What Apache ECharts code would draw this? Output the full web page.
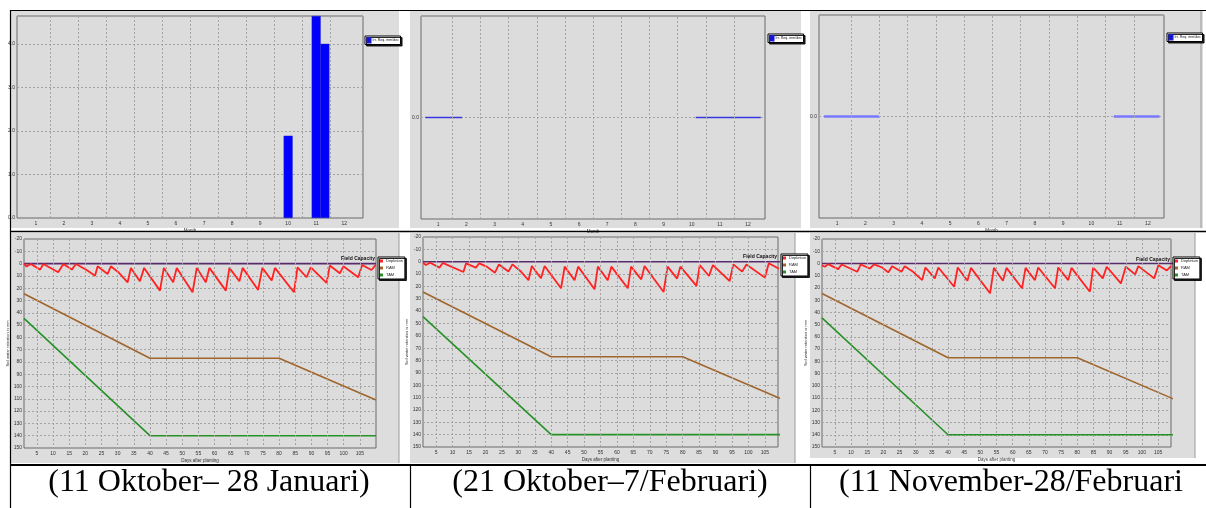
<!DOCTYPE html>
<html><head><meta charset="utf-8">
<script src="https://cdn.jsdelivr.net/npm/echarts@6/dist/echarts.min.js"></script>
<style>html,body{margin:0;padding:0;background:#fff}#c{width:1206px;height:508px}</style>
</head><body><div id="c"></div><script>
// ---------------- DATA ----------------
const monthLabels = [1,2,3,4,5,6,7,8,9,10,11,12];
const monthGridLines = [1.5,2.5,3.5,4.5,5.5,6.5,7.5,8.5,9.5,10.5,11.5];
const irrYTicks1 = [0,1,2,3,4];
const irrYTicksZero = [0];
// chart 1 (11 Oct - 28 Jan): irrigation requirement bars (month position, mm/dec)
const irrBarPos1 = [10.0, 11.0, 11.31];
const irrBarVal1 = [1.89, 4.64, 4.0];
// chart 2 & 3: zero-value irrigation requirement segments (start month, end month)
const irrZeroSeg2 = [[0.54, 1.85], [10.14, 12.45]];
const irrZeroSeg3 = [[0.54, 2.48], [10.79, 12.41]];

const dayTicks = [5,10,15,20,25,30,35,40,45,50,55,60,65,70,75,80,85,90,95,100,105];
const fcDays = [1, 110];
const fcVals = [0, 0];
const ramDays = [1, 40, 80, 110];
const ramVals = [24.5, 77, 77, 111];
const tamDays = [1, 40, 110];
const tamVals = [44.5, 140, 140];

const depDays1 = [1,1.8,3.1,6,7,11.6,13.2,15.8,17.1,20.4,23,23.8,26.9,27.9,30.2,33.1,34.1,36.9,38.2,43.1,44.3,47.2,48.3,53.2,54.5,57.3,58.4,63.5,64.6,67.7,68.7,73.5,74.8,77.7,78.7,84.6,85.7,88.5,89.8,94.7,95.7,98.8,99.9,104.5,105.7,108.6,109.9];
const depVals1 = [0,2.4,0.3,4.9,0.3,7,0.3,4.9,0.3,5.2,9.8,2.2,8.4,2.2,7,15.2,3.5,14.4,3.5,22,3.5,15.2,3.5,23.3,3.5,15.2,3.5,22,3.5,14.4,3.5,21.4,3.5,13.8,3.5,23.3,3,11.1,3,15.7,1.6,7.9,2.2,11.1,1.1,5.2,1.1];

const depDays2 = [1,1.85,3.2,6,7,13.3,14.1,17.1,18.1,20.4,22.9,24.1,27,28.2,30.6,33.1,34.1,36.9,38,43,44.1,47.1,48.2,53.2,54.2,57.2,58.3,63.3,64.3,67.4,68.4,74.2,75.4,78.3,79.3,84.2,85.2,88,89.2,94.3,95.4,98.1,99.4,105,106.2,109.3];
const depVals2 = [0.5,2.7,0.8,4.8,1,8.3,1.3,4.8,1.3,4,8.9,2.2,8,2.2,7.5,15,3.5,13.4,3.5,21.5,4,15,4,22.3,4,15,4,21.5,4,14.3,3.5,24.5,4,13.7,4,19.6,2.7,11.6,2.7,15.6,2.2,8,2.2,12.9,1.3,5.7];

const depDays3 = [1,1.9,2.9,6,7.1,11.9,13,15.8,17.1,19.6,21.5,22.7,25.6,26.6,29.2,32,33,35.9,37,41.9,43,46,47.1,53,54.2,57,58.1,62.9,64,66.9,67.9,73.1,74.1,77.2,78.2,83.9,84.9,87.9,89.1,93.5,95,97.9,98.9,103.8,105.1,107.7,109];
const depVals3 = [1.4,2.7,0.5,4.6,0.8,6.8,0.8,4.1,0.8,3.3,7.3,2.2,6.8,2.2,6.8,13.6,3.3,12.2,3.3,19,3.3,14.1,3.6,24.4,3.6,14.1,3.6,20.3,3.6,13.6,3.3,20.3,3.3,13.6,3.6,23.1,3.3,12.2,2.7,16.3,2.7,8.9,2.2,12.2,1.4,5.7,2.2];

const captions = ['(11 Oktober\u2013 28 Januari)', '(21 Oktober\u20137/Februari)', '(11 November-28/Februari'];
const irrName = 'Irr. Req. mm/dec';

// ---------------- LAYOUT ----------------
const FONT = 'Liberation Sans';
const grids = [
  {left:17, top:16, width:346, height:202},
  {left:421, top:16, width:344, height:203},
  {left:819, top:15, width:345, height:203},
  {left:24, top:239, width:352, height:209},
  {left:423, top:237, width:355, height:210},
  {left:822, top:239, width:349, height:208}
].map(g => Object.assign({show:true, backgroundColor:'#dcdcdc', borderColor:'#6a6a6a', borderWidth:1,
  containLabel:false, outerBoundsMode:'none'}, g));

const gridLineStyle = {color:'#a4a4a4', type:[2,2], width:1};
const gridLine = {show:true, lineStyle:gridLineStyle};
const lblStyle = {fontSize:5, color:'#333', fontFamily:FONT};

const monthRanges = [[0.33,12.67],[0.39,12.6],[0.36,12.57]];
const dayMax = [110, 109, 109];

const xAxes = [], yAxes = [];
for (let i=0;i<3;i++){
  xAxes.push({gridIndex:i, type:'value', min:monthRanges[i][0], max:monthRanges[i][1],
    axisLine:{show:false}, axisTick:{show:false}, splitLine:{show:false},
    axisLabel:Object.assign({customValues:monthLabels, margin:3}, lblStyle),
    name:'Month', nameLocation:'middle', nameGap:10, nameTextStyle:{fontSize:4.5, color:'#333', fontFamily:FONT}});
  const ticks = i===0 ? irrYTicks1 : irrYTicksZero;
  yAxes.push({gridIndex:i, type:'value', min: i===0?0:-1, max: i===0?4.64:1, interval:1,
    axisLine:{show:false}, axisTick:{show:false}, splitLine:gridLine,
    axisLabel:Object.assign({customValues:ticks, margin:2, formatter:v=>v.toFixed(1)}, lblStyle)});
}
for (let i=0;i<3;i++){
  xAxes.push({gridIndex:3+i, type:'value', min:1, max:dayMax[i],
    axisLine:{show:false}, axisTick:{show:false}, splitLine:{show:false},
    axisLabel:Object.assign({customValues:dayTicks, margin:3}, lblStyle),
    name:'Days after planting', nameLocation:'middle', nameGap:10, nameTextStyle:{fontSize:4.5, color:'#333', fontFamily:FONT}});
  yAxes.push({gridIndex:3+i, type:'value', min:-20, max:150, interval:10, inverse:true,
    axisLine:{show:false}, axisTick:{show:false}, splitLine:gridLine,
    axisLabel:Object.assign({margin:2}, lblStyle),
    name:'Soil water retention in mm', nameLocation:'middle', nameGap:13, nameRotate:90,
    nameTextStyle:{fontSize:4, color:'#333', fontFamily:FONT}});
}

const series = [];
// vertical grid lines drawn as markLines (behind data)
function vGrid(idx, vals){
  series.push({type:'line', xAxisIndex:idx, yAxisIndex:idx, data:[], z:1, silent:true,
    markLine:{silent:true, symbol:['none','none'], label:{show:false}, lineStyle:gridLineStyle,
      emphasis:{disabled:true}, data: vals.map(v=>({xAxis:v}))}});
}
for (let i=0;i<3;i++){ vGrid(i, monthGridLines); vGrid(3+i, dayTicks); }

series.push({type:'bar', name:irrName, xAxisIndex:0, yAxisIndex:0, barWidth:9, z:3,
  itemStyle:{color:'#0000ff', borderColor:'#1a1ad0', borderWidth:0.5},
  data: irrBarPos1.map((x,i)=>[x, irrBarVal1[i]])});
function zeroSeries(segs, idx, color, w){
  segs.forEach(s=>series.push({type:'line', name:irrName, xAxisIndex:idx, yAxisIndex:idx, symbol:'none',
    lineStyle:{color, width:w}, itemStyle:{color:'#0000ff'}, data:[[s[0],0],[s[1],0]], z:3}));
}
zeroSeries(irrZeroSeg2, 1, '#3838e0', 1.5);
zeroSeries(irrZeroSeg3, 2, '#7878ff', 2.5);

const depDays = [depDays1, depDays2, depDays3];
const depVals = [depVals1, depVals2, depVals3];
const zip = (a,b)=>a.map((x,i)=>[x,b[i]]);
for (let i=0;i<3;i++){
  const ax = 3+i;
  const base = {type:'line', xAxisIndex:ax, yAxisIndex:ax, symbol:'none', clip:true};
  series.push(Object.assign({name:'Field Capacity', data:zip(fcDays,fcVals), lineStyle:{color:'#5a2a6e', width:1.6}, itemStyle:{color:'#5a2a6e'}, z:3}, base));
  series.push(Object.assign({name:'TAM', data:zip(tamDays,tamVals), lineStyle:{color:'#279127', width:1.6}, itemStyle:{color:'#279127'}, z:3}, base));
  series.push(Object.assign({name:'RAM', data:zip(ramDays,ramVals), lineStyle:{color:'#a0652b', width:1.6}, itemStyle:{color:'#a0652b'}, z:3}, base));
  series.push(Object.assign({name:'Depletion', data:zip(depDays[i],depVals[i]), lineStyle:{color:'#ff2222', width:1.8}, itemStyle:{color:'#ff2222'}, z:4}, base));
}

const legendBase = {backgroundColor:'#fff', borderColor:'#000', borderWidth:1, borderRadius:0,
  shadowColor:'rgba(0,0,0,0.85)', shadowOffsetX:1.5, shadowOffsetY:1.5, shadowBlur:0,
  icon:'rect', selectedMode:false};
const topLeg = {padding:[1,1.5], itemWidth:3, itemHeight:4.5, itemGap:1, data:[irrName],
  textStyle:{fontSize:3.6, color:'#222', fontFamily:FONT, padding:[0,0,0,-3]}};
const botLeg = {orient:'vertical', padding:[2,2], itemWidth:3, itemHeight:3, itemGap:3, data:['Depletion','RAM','TAM'],
  textStyle:{fontSize:4, color:'#222', fontFamily:FONT, padding:[0,0,0,-2]}};
const legends = [
  Object.assign({left:365, top:36}, topLeg, legendBase),
  Object.assign({left:768, top:34}, topLeg, legendBase),
  Object.assign({left:1167, top:33}, topLeg, legendBase),
  Object.assign({left:378, top:257}, botLeg, legendBase),
  Object.assign({left:781, top:254}, botLeg, legendBase),
  Object.assign({left:1173, top:257}, botLeg, legendBase)
];

// ---------------- GRAPHICS (frames, table, captions) ----------------
const panelBg = '#dddddd';
const panels = [[10,11,389,217],[410,11,391,217],[810,11,393,217],[11,233,388,230],[410,233,385,230],[810,233,385,225]];
const gfx = [];
panels.forEach(p=>gfx.push({type:'rect', shape:{x:p[0],y:p[1],width:p[2],height:p[3]}, style:{fill:panelBg}, z:-10, silent:true}));
[[399,233,463],[795,233,463],[1195,233,458],[1201,11,228]].forEach(l=>gfx.push({type:'line', shape:{x1:l[0],y1:l[1],x2:l[0],y2:l[2]}, style:{stroke:'#9a9a9a', lineWidth:1}, z:-5}));
const blk = (x1,y1,x2,y2,w)=>gfx.push({type:'line', shape:{x1,y1,x2,y2}, style:{stroke:'#000', lineWidth:w}, z:50});
blk(10,10.5,1206,10.5,1.2);
blk(10.5,10,10.5,508,1.2);
blk(10,231.5,1206,231.5,1.5);
blk(10,465,1206,465,2);
blk(410.5,465,410.5,508,1.2);
blk(810.5,465,810.5,508,1.2);
const fcLabelPos = [[375,259],[777,256.5],[1170,260]];
fcLabelPos.forEach(p=>gfx.push({type:'text', x:p[0], y:p[1], style:{text:'Field Capacity', fontSize:5, fontWeight:'bold', fill:'#111', fontFamily:FONT, align:'right', verticalAlign:'middle'}, z:60}));
const capX = [209, 610, 1011];
captions.forEach((c,i)=>gfx.push({type:'text', x:capX[i], y:483, style:{text:c, fontSize:32, fill:'#000', fontFamily:'Liberation Serif', align:'center', verticalAlign:'middle'}, z:60}));

const chart = echarts.init(document.getElementById('c'), null, {renderer:'canvas'});
chart.setOption({animation:false, grid:grids, xAxis:xAxes, yAxis:yAxes, series, legend:legends, graphic:{elements:gfx}});
</script></body></html>
